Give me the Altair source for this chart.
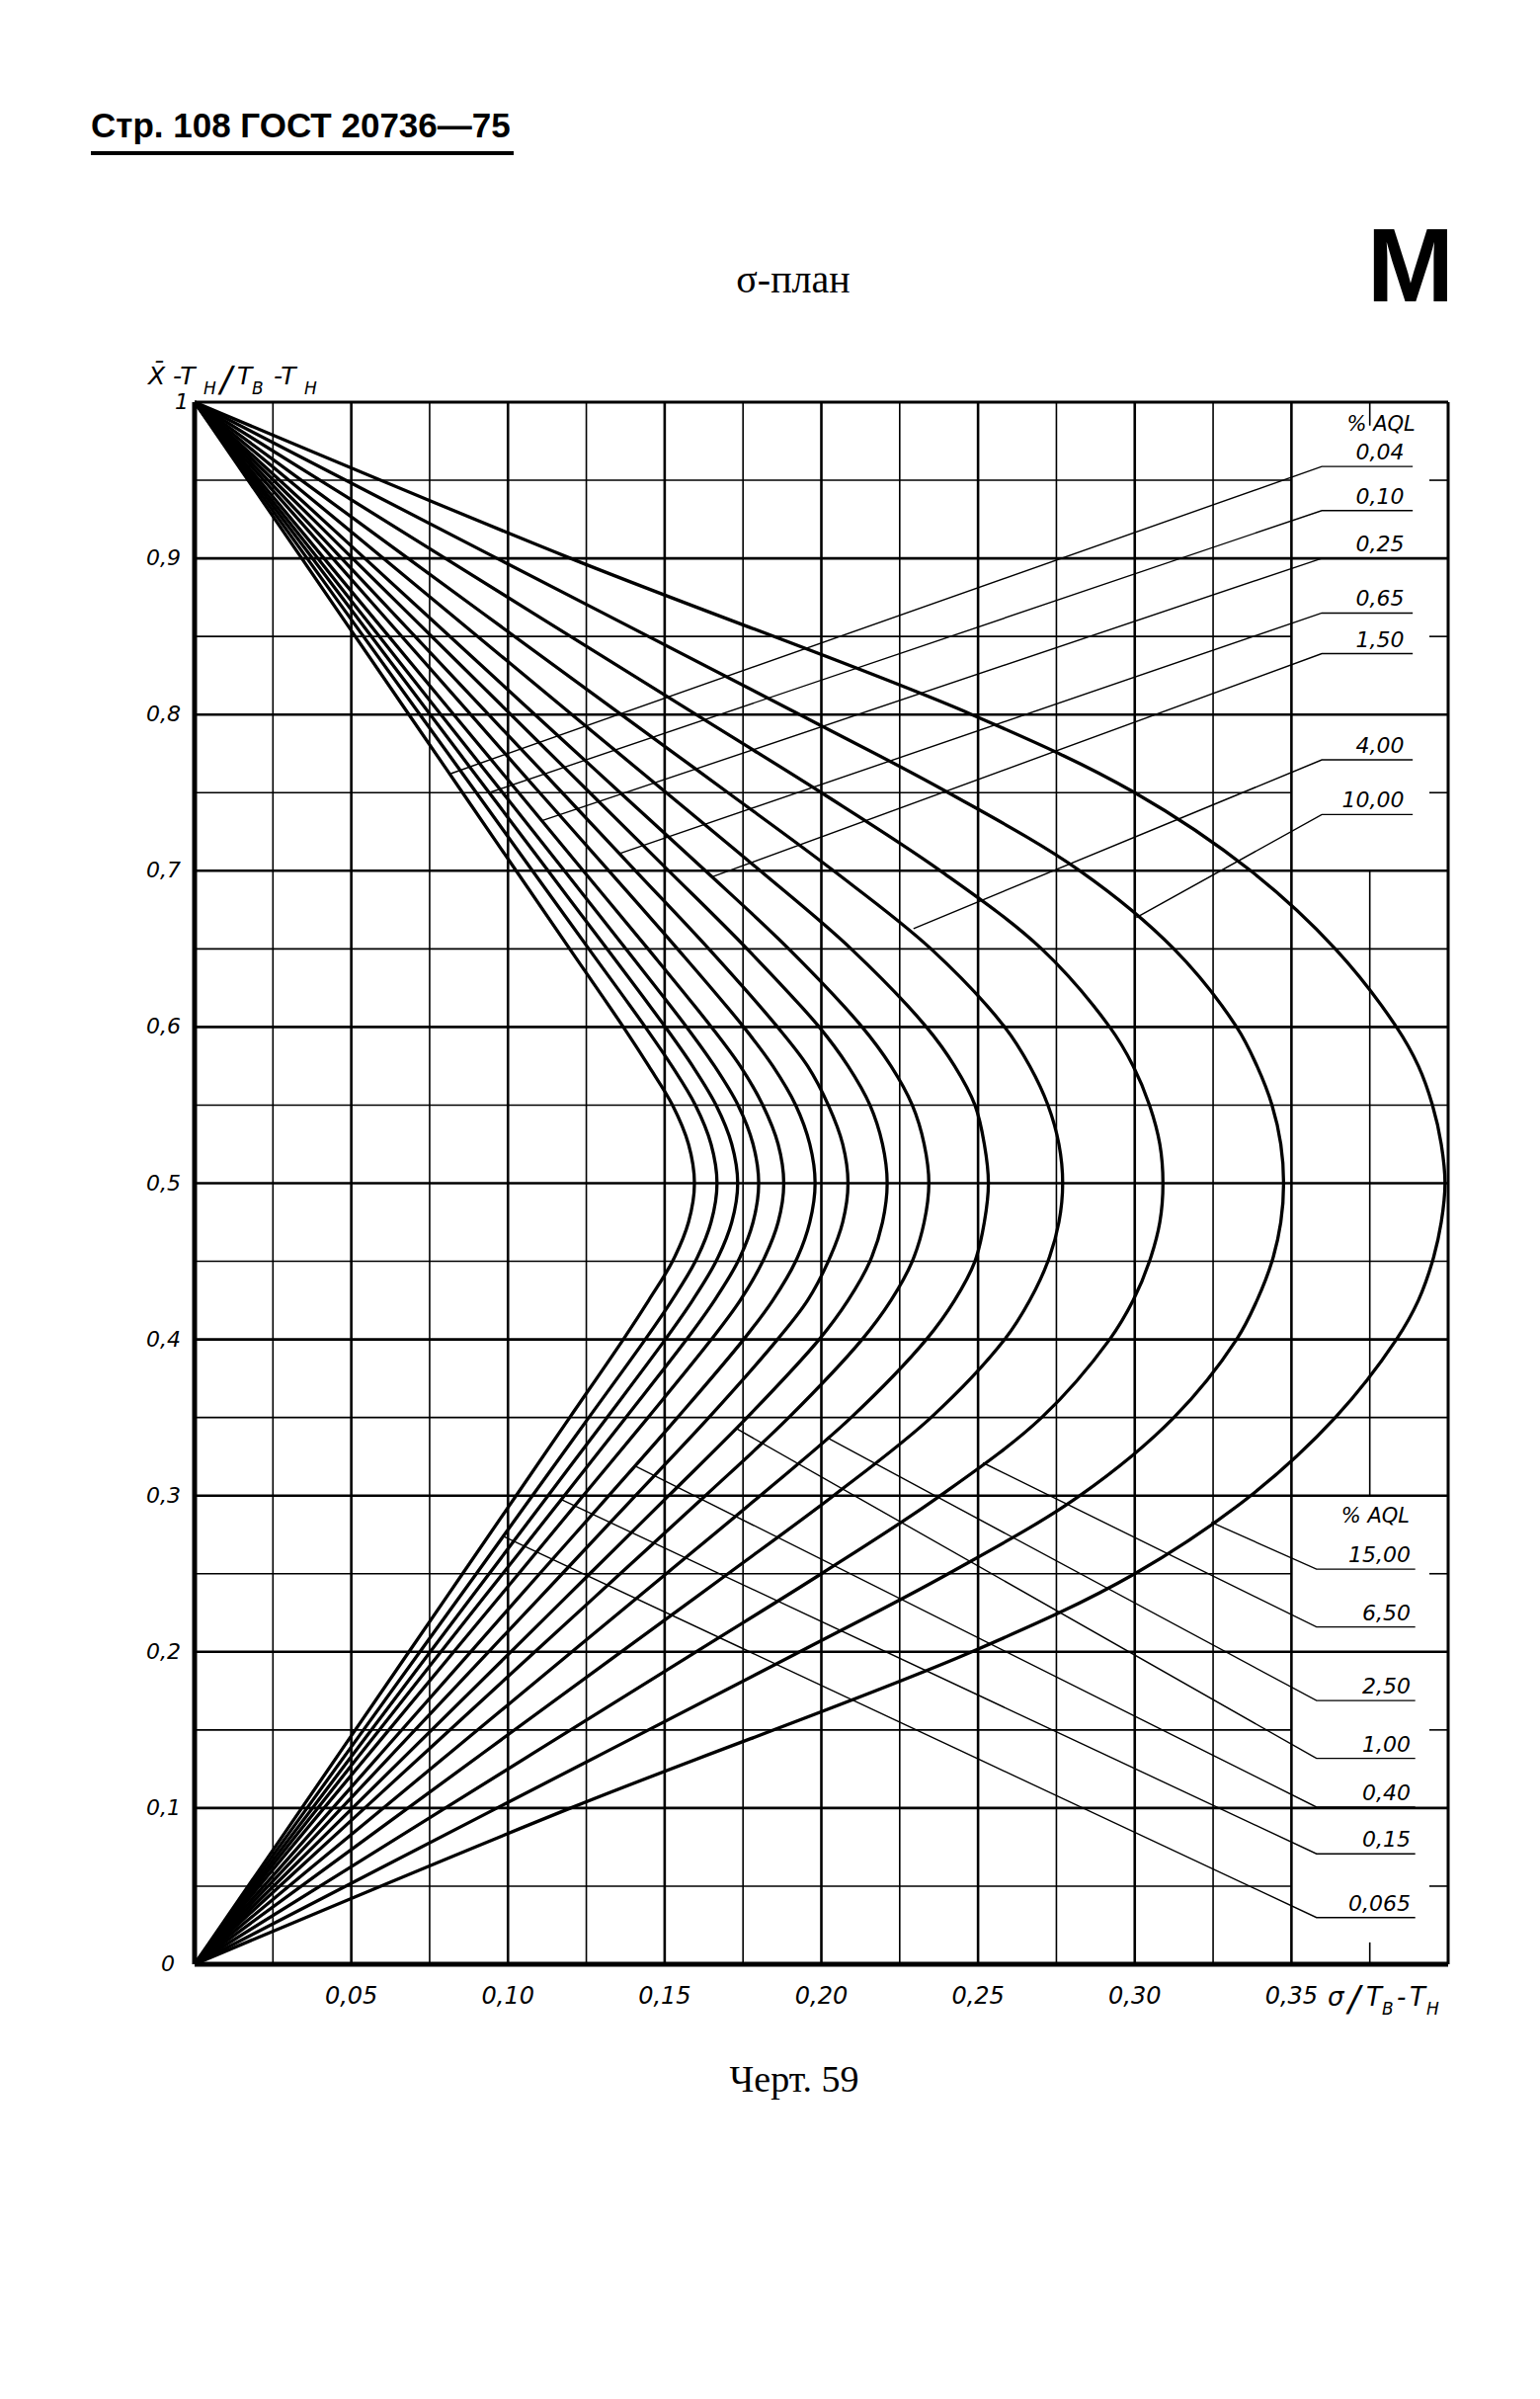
import altair as alt
import pandas as pd

W, H = 1269, 1581

# ---- data ---------------------------------------------------------------
# relative mean (X̄-Tн)/(Tв-Tн) levels along every curve, top to bottom
Y_LEVELS = [1.0, 0.9, 0.8, 0.75, 0.7, 0.65, 0.6, 0.575, 0.55, 0.525, 0.5,
            0.475, 0.45, 0.425, 0.4, 0.35, 0.3, 0.25, 0.2, 0.1, 0.0]

AQL_LABELS = ["0,04", "0,065", "0,10", "0,15", "0,25", "0,40", "0,65",
              "1,00", "1,50", "2,50", "4,00", "6,50", "10,00", "15,00"]

SIGMA_0_04 = [0, 0.0342, 0.0684, 0.0855, 0.1026, 0.1197, 0.1368, 0.1449, 0.1525, 0.1576, 0.1595,
              0.1576, 0.1525, 0.1449, 0.1368, 0.1197, 0.1026, 0.0855, 0.0684, 0.0342, 0]
SIGMA_0_065 = [0, 0.0359, 0.0719, 0.0899, 0.1078, 0.1258, 0.1438, 0.1523, 0.1598, 0.1648, 0.1667,
               0.1648, 0.1598, 0.1523, 0.1438, 0.1258, 0.1078, 0.0899, 0.0719, 0.0359, 0]
SIGMA_0_10 = [0, 0.0376, 0.0752, 0.0940, 0.1128, 0.1316, 0.1502, 0.1589, 0.1664, 0.1714, 0.1733,
              0.1714, 0.1664, 0.1589, 0.1502, 0.1316, 0.1128, 0.0940, 0.0752, 0.0376, 0]
SIGMA_0_15 = [0, 0.0393, 0.0786, 0.0983, 0.1180, 0.1376, 0.1570, 0.1659, 0.1734, 0.1782, 0.1800,
              0.1782, 0.1734, 0.1659, 0.1570, 0.1376, 0.1180, 0.0983, 0.0786, 0.0393, 0]
SIGMA_0_25 = [0, 0.0413, 0.0827, 0.1034, 0.1240, 0.1447, 0.1649, 0.1741, 0.1813, 0.1862, 0.1880,
              0.1862, 0.1813, 0.1741, 0.1649, 0.1447, 0.1240, 0.1034, 0.0827, 0.0413, 0]
SIGMA_0_40 = [0, 0.0441, 0.0881, 0.1101, 0.1322, 0.1541, 0.1752, 0.1845, 0.1918, 0.1963, 0.1980,
              0.1963, 0.1918, 0.1845, 0.1752, 0.1541, 0.1322, 0.1101, 0.0881, 0.0441, 0]
SIGMA_0_65 = [0, 0.0469, 0.0938, 0.1173, 0.1407, 0.1641, 0.1860, 0.1956, 0.2022, 0.2068, 0.2085,
              0.2068, 0.2022, 0.1956, 0.1860, 0.1641, 0.1407, 0.1173, 0.0938, 0.0469, 0]
SIGMA_1_00 = [0, 0.0504, 0.1009, 0.1261, 0.1513, 0.1763, 0.1993, 0.2085, 0.2155, 0.2195, 0.2210,
              0.2195, 0.2155, 0.2085, 0.1993, 0.1763, 0.1513, 0.1261, 0.1009, 0.0504, 0]
SIGMA_1_50 = [0, 0.0543, 0.1086, 0.1358, 0.1630, 0.1896, 0.2130, 0.2222, 0.2290, 0.2328, 0.2343,
              0.2328, 0.2290, 0.2222, 0.2130, 0.1896, 0.1630, 0.1358, 0.1086, 0.0543, 0]
SIGMA_2_50 = [0, 0.0602, 0.1204, 0.1505, 0.1805, 0.2095, 0.2335, 0.2425, 0.2490, 0.2520, 0.2533,
              0.2520, 0.2490, 0.2425, 0.2335, 0.2095, 0.1805, 0.1505, 0.1204, 0.0602, 0]
SIGMA_4_00 = [0, 0.0681, 0.1361, 0.1702, 0.2039, 0.2350, 0.2585, 0.2665, 0.2723, 0.2758, 0.2770,
              0.2758, 0.2723, 0.2665, 0.2585, 0.2350, 0.2039, 0.1702, 0.1361, 0.0681, 0]
SIGMA_6_50 = [0, 0.0800, 0.1600, 0.2000, 0.2380, 0.2703, 0.2920, 0.2995, 0.3047, 0.3080, 0.3090,
              0.3080, 0.3047, 0.2995, 0.2920, 0.2703, 0.2380, 0.2000, 0.1600, 0.0800, 0]
SIGMA_10_00 = [0, 0.0965, 0.1931, 0.2405, 0.2825, 0.3125, 0.3325, 0.3390, 0.3438, 0.3466, 0.3475,
               0.3466, 0.3438, 0.3390, 0.3325, 0.3125, 0.2825, 0.2405, 0.1931, 0.0965, 0]
SIGMA_15_00 = [0, 0.1200, 0.2480, 0.3000, 0.3370, 0.3640, 0.3835, 0.3905, 0.3950, 0.3978, 0.3990,
               0.3978, 0.3950, 0.3905, 0.3835, 0.3640, 0.3370, 0.3000, 0.2480, 0.1200, 0]

SIGMAS = [SIGMA_0_04, SIGMA_0_065, SIGMA_0_10, SIGMA_0_15, SIGMA_0_25, SIGMA_0_40, SIGMA_0_65,
          SIGMA_1_00, SIGMA_1_50, SIGMA_2_50, SIGMA_4_00, SIGMA_6_50, SIGMA_10_00, SIGMA_15_00]

# labels in the upper right (point to upper branches)
TOP_LABELS = ["0,04", "0,10", "0,25", "0,65", "1,50", "4,00", "10,00"]
TOP_LABEL_Y = [0.9588, 0.9306, 0.900, 0.865, 0.839, 0.771, 0.736]
TOP_TARGET_X = [0.0815, 0.0940, 0.1108, 0.1356, 0.1650, 0.2294, 0.3005]
TOP_TARGET_Y = [0.762, 0.750, 0.732, 0.711, 0.696, 0.663, 0.670]
TOP_UNDERLINE_X = [0.3597, 0.3887]
TOP_TEXT_X = 0.386

# labels in the lower right (point to lower branches)
BOTTOM_LABELS = ["15,00", "6,50", "2,50", "1,00", "0,40", "0,15", "0,065"]
BOTTOM_LABEL_Y = [0.2529, 0.2159, 0.1688, 0.1318, 0.1006, 0.0707, 0.0299]
BOTTOM_TARGET_X = [0.3244, 0.2516, 0.2019, 0.1728, 0.1405, 0.1170, 0.0985]
BOTTOM_TARGET_Y = [0.283, 0.321, 0.337, 0.343, 0.319, 0.2975, 0.274]
BOTTOM_UNDERLINE_X = [0.358, 0.3895]
BOTTOM_TEXT_X = 0.388

AQL_HEAD_X = [0.3786, 0.3768]
AQL_HEAD_Y = [0.9856, 0.2866]

X_TICKS = [0.05, 0.10, 0.15, 0.20, 0.25, 0.30, 0.35]
X_TICK_LABELS = ["0,05", "0,10", "0,15", "0,20", "0,25", "0,30", "0,35"]
Y_TICKS = [0.1, 0.2, 0.3, 0.4, 0.5, 0.6, 0.7, 0.8, 0.9]
Y_TICK_LABELS = ["0,1", "0,2", "0,3", "0,4", "0,5", "0,6", "0,7", "0,8", "0,9"]

X_GRID_MAJOR = [0.05, 0.10, 0.15, 0.20, 0.25, 0.30, 0.35]
X_GRID_MINOR = [0.025, 0.075, 0.125, 0.175, 0.225, 0.275, 0.325]
X_GRID_PARTIAL = 0.375
X_GRID_PARTIAL_SEGMENTS = [(0.985, 1.0), (0.3, 0.7), (0.0, 0.014)]
Y_GRID_MAJOR = [0.1, 0.2, 0.3, 0.4, 0.5, 0.6, 0.7, 0.8, 0.9]
Y_GRID_MINOR_FULL = [0.35, 0.45, 0.55, 0.65]
Y_GRID_MINOR_BROKEN = [0.05, 0.15, 0.25, 0.75, 0.85, 0.95]
BROKEN_SEGMENTS = [(0.0, 0.35), (0.394, 0.4)]

X_MAX, Y_MAX = 0.4, 1.0

# ---- build tables --------------------------------------------------------
xs = alt.Scale(domain=[0, X_MAX], nice=False, zero=False)
ys = alt.Scale(domain=[0, Y_MAX], nice=False, zero=False)

vrows = []
for v in X_GRID_MAJOR:
    vrows.append({"x": v, "y": 0.0, "y2": Y_MAX, "w": 2.6})
for v in X_GRID_MINOR:
    vrows.append({"x": v, "y": 0.0, "y2": Y_MAX, "w": 1.6})
for a, b in X_GRID_PARTIAL_SEGMENTS:
    vrows.append({"x": X_GRID_PARTIAL, "y": a, "y2": b, "w": 1.6})
vrows.append({"x": X_MAX, "y": 0.0, "y2": Y_MAX, "w": 3.0})
vrows.append({"x": 0.0, "y": 0.0, "y2": Y_MAX, "w": 5.0})

hrows = []
for h in Y_GRID_MAJOR:
    hrows.append({"y": h, "x": 0.0, "x2": X_MAX, "w": 2.6})
for h in Y_GRID_MINOR_FULL:
    hrows.append({"y": h, "x": 0.0, "x2": X_MAX, "w": 1.6})
for h in Y_GRID_MINOR_BROKEN:
    for a, b in BROKEN_SEGMENTS:
        hrows.append({"y": h, "x": a, "x2": b, "w": 1.6})
hrows.append({"y": Y_MAX, "x": 0.0, "x2": X_MAX, "w": 3.0})
hrows.append({"y": 0.0, "x": 0.0, "x2": X_MAX, "w": 5.0})

vgrid = alt.Chart(pd.DataFrame(vrows)).mark_rule(color="black").encode(
    x=alt.X("x:Q", scale=xs, axis=None),
    y=alt.Y("y:Q", scale=ys, axis=None),
    y2="y2:Q",
    strokeWidth=alt.StrokeWidth("w:Q", scale=None, legend=None),
)
hgrid = alt.Chart(pd.DataFrame(hrows)).mark_rule(color="black").encode(
    y=alt.Y("y:Q", scale=ys, axis=None),
    x=alt.X("x:Q", scale=xs, axis=None),
    x2="x2:Q",
    strokeWidth=alt.StrokeWidth("w:Q", scale=None, legend=None),
)

crows = []
for lab, sig in zip(AQL_LABELS, SIGMAS):
    for i, (yv, sv) in enumerate(zip(Y_LEVELS, sig)):
        crows.append({"aql": lab, "i": i, "sigma": sv, "y": yv})
curves = alt.Chart(pd.DataFrame(crows)).mark_line(
    color="black", strokeWidth=3.3, interpolate="catmull-rom"
).encode(
    x=alt.X("sigma:Q", scale=xs, axis=None),
    y=alt.Y("y:Q", scale=ys, axis=None),
    detail="aql:N",
    order="i:Q",
)

lrows = []
for lab, ly, tx, ty in zip(TOP_LABELS, TOP_LABEL_Y, TOP_TARGET_X, TOP_TARGET_Y):
    key = "top" + lab
    lrows += [{"k": key, "i": 0, "x": tx, "y": ty},
              {"k": key, "i": 1, "x": TOP_UNDERLINE_X[0], "y": ly},
              {"k": key, "i": 2, "x": TOP_UNDERLINE_X[1], "y": ly}]
for lab, ly, tx, ty in zip(BOTTOM_LABELS, BOTTOM_LABEL_Y, BOTTOM_TARGET_X, BOTTOM_TARGET_Y):
    key = "bot" + lab
    lrows += [{"k": key, "i": 0, "x": tx, "y": ty},
              {"k": key, "i": 1, "x": BOTTOM_UNDERLINE_X[0], "y": ly},
              {"k": key, "i": 2, "x": BOTTOM_UNDERLINE_X[1], "y": ly}]
leaders = alt.Chart(pd.DataFrame(lrows)).mark_line(color="black", strokeWidth=1.4).encode(
    x=alt.X("x:Q", scale=xs, axis=None),
    y=alt.Y("y:Q", scale=ys, axis=None),
    detail="k:N",
    order="i:Q",
)

GOST = dict(font="DejaVu Sans", fontStyle="italic", color="black")

top_lab = alt.Chart(pd.DataFrame({"t": TOP_LABELS, "y": TOP_LABEL_Y,
                                  "x": [TOP_TEXT_X] * len(TOP_LABELS)})).mark_text(
    align="right", baseline="alphabetic", dy=-7, fontSize=22, **GOST
).encode(x=alt.X("x:Q", scale=xs, axis=None), y=alt.Y("y:Q", scale=ys, axis=None), text="t:N")
bot_lab = alt.Chart(pd.DataFrame({"t": BOTTOM_LABELS, "y": BOTTOM_LABEL_Y,
                                  "x": [BOTTOM_TEXT_X] * len(BOTTOM_LABELS)})).mark_text(
    align="right", baseline="alphabetic", dy=-7, fontSize=22, **GOST
).encode(x=alt.X("x:Q", scale=xs, axis=None), y=alt.Y("y:Q", scale=ys, axis=None), text="t:N")

aql_head = alt.Chart(pd.DataFrame({"t": ["% AQL", "% AQL"], "x": AQL_HEAD_X,
                                   "y": AQL_HEAD_Y})).mark_text(
    align="center", baseline="middle", fontSize=21, **GOST
).encode(x=alt.X("x:Q", scale=xs, axis=None), y=alt.Y("y:Q", scale=ys, axis=None), text="t:N")

xlab = alt.Chart(pd.DataFrame({"v": X_TICKS, "t": X_TICK_LABELS})).mark_text(
    align="center", baseline="middle", fontSize=24, **GOST
).encode(x=alt.X("v:Q", scale=xs, axis=None), y=alt.value(H + 33), text="t:N")
ylab = alt.Chart(pd.DataFrame({"v": Y_TICKS, "t": Y_TICK_LABELS})).mark_text(
    align="right", baseline="middle", fontSize=22, **GOST
).encode(y=alt.Y("v:Q", scale=ys, axis=None), x=alt.value(-14), text="t:N")
ytop = alt.Chart(pd.DataFrame({"v": [1.0], "t": ["1"]})).mark_text(
    align="right", baseline="middle", fontSize=22, **GOST
).encode(y=alt.Y("v:Q", scale=ys, axis=None), x=alt.value(-6), text="t:N")
ybot = alt.Chart(pd.DataFrame({"v": [0.0], "t": ["0"]})).mark_text(
    align="right", baseline="middle", fontSize=22, **GOST
).encode(y=alt.Y("v:Q", scale=ys, axis=None), x=alt.value(-20), text="t:N")


def txt(s, x, y, size, font="DejaVu Sans", style="italic", weight="normal",
        align="left", baseline="alphabetic"):
    return alt.Chart(pd.DataFrame({"t": [s]})).mark_text(
        font=font, fontSize=size, fontStyle=style, fontWeight=weight,
        align=align, baseline=baseline, color="black"
    ).encode(x=alt.value(x), y=alt.value(y), text="t:N")


texts = [
    # header
    txt("Стр. 108 ГОСТ 20736—75", -105, -268, 35, font="Liberation Sans",
        style="normal", weight="bold"),
    txt("σ-план", 606, -111, 40, font="Liberation Serif", style="normal", align="center"),
    txt("M", 1231, -102, 106, font="Liberation Sans", style="normal", weight="bold",
        align="center"),
    txt("Черт. 59", 607, 1710, 38, font="Liberation Serif", style="normal", align="center"),
    # y title  X̄-Tн/Tв-Tн
    txt("X̄", -47, -18, 25),
    txt("-T", -22, -18, 25),
    txt("H", 9, -8, 17),
    txt("/", 26, -11, 35),
    txt("T", 43, -18, 25),
    txt("B", 58, -8, 17),
    txt("-T", 80, -18, 25),
    txt("H", 111, -8, 17),
    # x title  σ/Tв-Tн
    txt("σ", 1147, 1623, 26),
    txt("/", 1168, 1628, 35),
    txt("T", 1186, 1623, 26),
    txt("B", 1202, 1632, 17),
    txt("-", 1217, 1623, 26),
    txt("T", 1230, 1623, 26),
    txt("H", 1247, 1632, 17),
]

underline = alt.Chart(pd.DataFrame({"a": [0]})).mark_rule(color="black", strokeWidth=4).encode(
    x=alt.value(-105), x2=alt.value(323), y=alt.value(-252)
)

chart = alt.layer(
    vgrid, hgrid, curves, leaders, top_lab, bot_lab, aql_head, xlab, ylab, ytop, ybot,
    underline, *texts
).properties(
    width=W, height=H,
    autosize=alt.AutoSizeParams(type="none"),
    padding={"left": 189, "top": 399, "right": 85, "bottom": 432},
    background="white",
).configure_view(stroke=None)

chart.save("out.html", embed_options={"renderer": "svg", "actions": False})
